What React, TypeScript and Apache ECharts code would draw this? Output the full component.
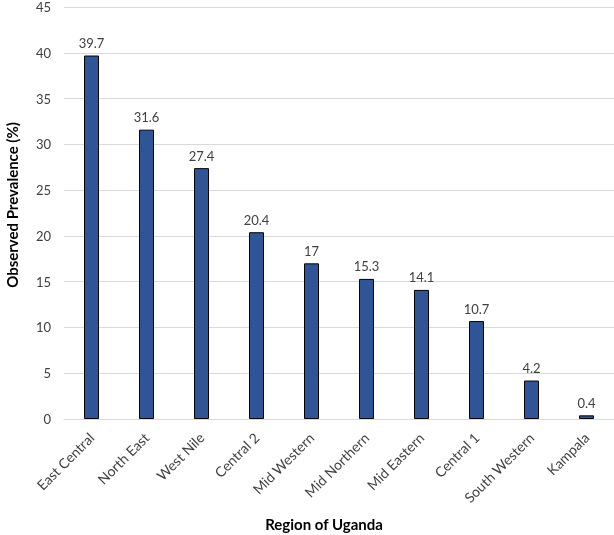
import React, { useEffect, useRef } from "react";
import * as echarts from "echarts";

const categories = [
  "East Central",
  "North East",
  "West Nile",
  "Central 2",
  "Mid Western",
  "Mid Northern",
  "Mid Eastern",
  "Central 1",
  "South Western",
  "Kampala",
];
const values = [39.7, 31.6, 27.4, 20.4, 17, 15.3, 14.1, 10.7, 4.2, 0.4];
const yTitle = "Observed Prevalence (%)";
const xTitle = "Region of Uganda";

const FONT = "Lato, 'Open Sans', sans-serif";

export default function App() {
  const ref = useRef<HTMLDivElement>(null);
  useEffect(() => {
    const chart = echarts.init(ref.current!, undefined, { renderer: "svg" });
    chart.setOption({
      animation: false,
      textStyle: { fontFamily: FONT },
      grid: {
        left: 64,
        right: 0,
        top: 7,
        bottom: 116,
        containLabel: false,
        outerBoundsMode: "none",
      },
      xAxis: {
        type: "category",
        data: categories,
        axisLine: { show: true, lineStyle: { color: "#d9d9d9", width: 1 } },
        axisTick: { show: false },
        axisLabel: {
          rotate: 45,
          interval: 0,
          margin: 16,
          color: "#404040",
          fontSize: 14,
          fontFamily: FONT,
        },
        name: xTitle,
        nameLocation: "middle",
        nameGap: 97,
        nameTextStyle: {
          fontWeight: "bold",
          fontSize: 15,
          color: "#000",
          fontFamily: FONT,
          padding: [0, 30, 0, 0],
        },
      },
      yAxis: {
        type: "value",
        min: 0,
        max: 45,
        interval: 5,
        axisLine: { show: false },
        axisTick: { show: false },
        splitLine: { lineStyle: { color: "#d9d9d9", width: 1 } },
        axisLabel: {
          color: "#404040",
          fontSize: 13,
          margin: 13,
          fontFamily: FONT,
        },
        name: yTitle,
        nameLocation: "middle",
        nameGap: 45,
        nameRotate: 90,
        nameTextStyle: {
          fontWeight: "bold",
          fontSize: 15,
          color: "#000",
          fontFamily: FONT,
          padding: [0, 0, 0, 16],
        },
      },
      series: [
        {
          type: "bar",
          data: values,
          barWidth: 15,
          itemStyle: {
            color: "#2F5597",
            borderColor: "#000",
            borderWidth: 1,
          },
          label: {
            show: true,
            position: "top",
            distance: 6,
            color: "#404040",
            fontSize: 13,
            fontFamily: FONT,
          },
        },
      ],
    });
    return () => chart.dispose();
  }, []);
  return (
    <div
      ref={ref}
      style={{ position: "fixed", left: 0, top: 0, width: 614, height: 535 }}
    />
  );
}
